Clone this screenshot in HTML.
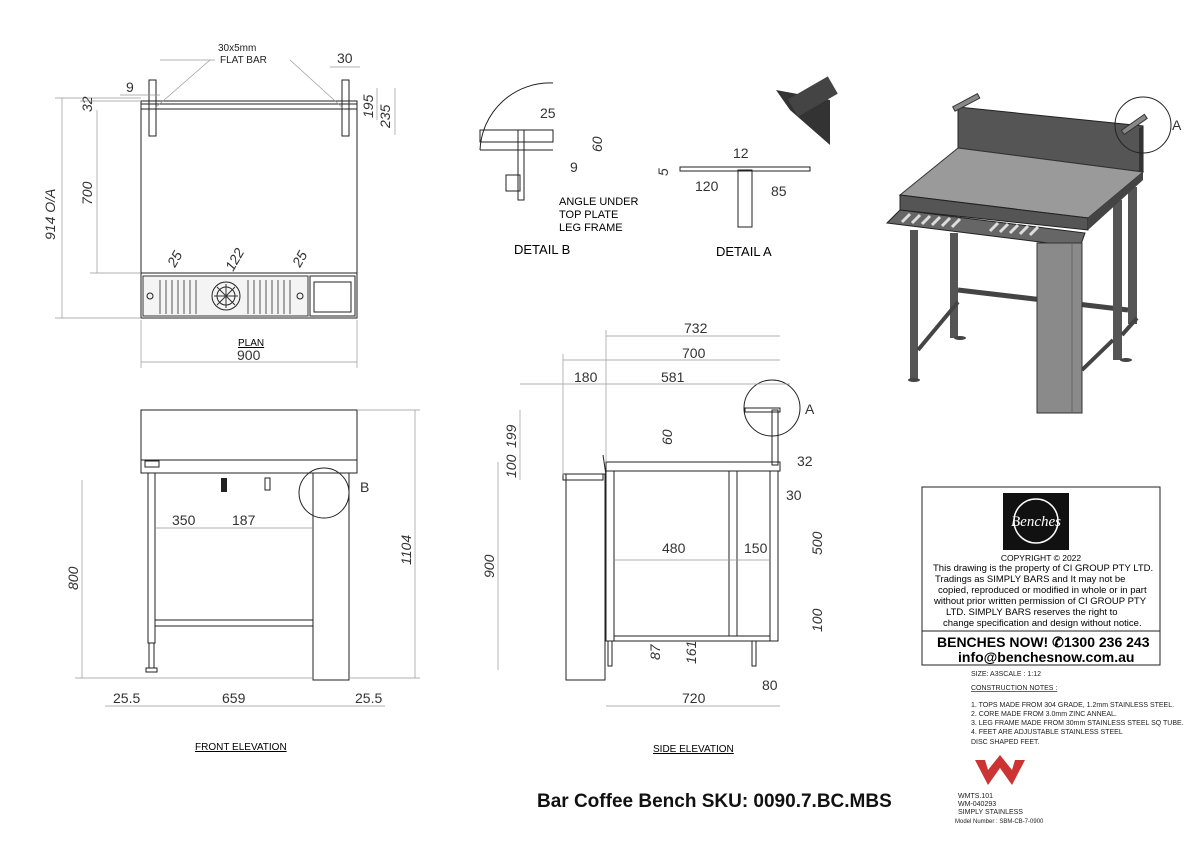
<!DOCTYPE html>
<html><head><meta charset="utf-8"><style>
html,body{margin:0;padding:0;background:#fff;}
svg{display:block;font-family:"Liberation Sans",sans-serif;}
.l{stroke:#222;stroke-width:1;fill:none}
.t{stroke:#999;stroke-width:.7;fill:none}
.d{font-size:14px;fill:#333}
.s{font-size:7px;fill:#222}
</style></head><body>
<svg width="1200" height="848" viewBox="0 0 1200 848">
<rect width="1200" height="848" fill="#fff"/>
<!-- PLAN -->
<g>
<rect x="141" y="104" width="216" height="214" class="l"/>
<line x1="141" y1="273" x2="357" y2="273" class="l"/>
<rect x="143" y="276" width="165" height="40" fill="#f4f4f4" stroke="#333"/>
<rect x="310" y="276" width="45" height="40" class="l"/>
<rect x="314" y="282" width="37" height="30" class="l"/>
<g stroke="#555" stroke-width="1">
<path d="M160 280v34M166 280v34M172 280v34M178 280v34M184 280v34M190 280v34M196 280v34M248 280v34M254 280v34M260 280v34M266 280v34M272 280v34M278 280v34M284 280v34M290 280v34"/>
</g>
<circle cx="226" cy="296" r="14" class="l"/><circle cx="226" cy="296" r="9" class="l"/>
<path d="M214 296h24M226 284v24M217 287l18 18M235 287l-18 18" stroke="#333"/>
<circle cx="150" cy="296" r="3" class="l"/><circle cx="300" cy="296" r="3" class="l"/>
<rect x="141" y="101" width="216" height="8" class="l"/>
<rect x="149" y="80" width="7" height="56" class="l"/><rect x="342" y="80" width="7" height="56" class="l"/>
<line x1="160" y1="60" x2="215" y2="60" class="t"/><line x1="290" y1="60" x2="345" y2="110" class="t"/><line x1="210" y1="60" x2="155" y2="108" class="t"/>
<text x="218" y="51" class="s" style="font-size:10px">30x5mm</text><text x="220" y="63" class="s" style="font-size:10px">FLAT BAR</text>
<line x1="62" y1="98" x2="62" y2="318" class="t"/><line x1="55" y1="98" x2="141" y2="98" class="t"/><line x1="55" y1="318" x2="141" y2="318" class="t"/>
<text class="d" transform="translate(55 240) rotate(-90)" font-style="italic">914 O/A</text>
<line x1="97" y1="110" x2="97" y2="273" class="t"/><line x1="90" y1="273" x2="141" y2="273" class="t"/>
<text class="d" transform="translate(92 205) rotate(-90)" font-style="italic">700</text>
<text class="d" transform="translate(92 112) rotate(-90)" font-style="italic">32</text>
<line x1="80" y1="101" x2="141" y2="101" class="t"/>
<text x="126" y="92" class="d">9</text><line x1="120" y1="95" x2="160" y2="95" class="t"/>
<text x="337" y="63" class="d">30</text><line x1="330" y1="67" x2="360" y2="67" class="t"/>
<text class="d" transform="translate(373 118) rotate(-90)" font-style="italic">195</text>
<text class="d" transform="translate(390 128) rotate(-90)" font-style="italic">235</text>
<line x1="377" y1="88" x2="377" y2="120" class="t"/><line x1="395" y1="88" x2="395" y2="135" class="t"/>
<text class="d" transform="translate(175 268) rotate(-60)" font-style="italic">25</text>
<text class="d" transform="translate(233 272) rotate(-60)" font-style="italic">122</text>
<text class="d" transform="translate(300 268) rotate(-60)" font-style="italic">25</text>
<text x="238" y="346" style="font-size:10px;text-decoration:underline">PLAN</text>
<line x1="141" y1="362" x2="357" y2="362" class="t"/><line x1="141" y1="320" x2="141" y2="368" class="t"/><line x1="357" y1="320" x2="357" y2="368" class="t"/>
<text x="237" y="360" class="d">900</text>
</g>
<!-- FRONT ELEVATION -->
<g>
<rect x="141" y="410" width="216" height="63" class="l"/>
<line x1="141" y1="460" x2="357" y2="460" class="l"/>
<rect x="145" y="461" width="14" height="6" class="l"/>
<rect x="148" y="473" width="7" height="170" class="l"/>
<rect x="313" y="473" width="36" height="207" fill="#fff" stroke="#222"/>
<line x1="155" y1="620" x2="313" y2="620" class="l"/><line x1="155" y1="626" x2="313" y2="626" class="l"/>
<rect x="149" y="643" width="5" height="25" class="l"/><rect x="146" y="668" width="11" height="4" class="l"/>
<rect x="221" y="478" width="6" height="14" fill="#222"/>
<rect x="265" y="478" width="5" height="12" class="l"/>
<circle cx="324" cy="493" r="25" class="l"/><text x="360" y="492" class="d">B</text>
<line x1="82" y1="480" x2="82" y2="678" class="t"/><line x1="75" y1="678" x2="313" y2="678" class="t"/>
<text class="d" transform="translate(78 590) rotate(-90)" font-style="italic">800</text>
<line x1="415" y1="410" x2="415" y2="678" class="t"/><line x1="357" y1="410" x2="420" y2="410" class="t"/><line x1="349" y1="678" x2="420" y2="678" class="t"/>
<text class="d" transform="translate(411 565) rotate(-90)" font-style="italic">1104</text>
<line x1="155" y1="528" x2="313" y2="528" class="t"/>
<text x="172" y="525" class="d">350</text><text x="232" y="525" class="d">187</text>
<line x1="105" y1="706" x2="385" y2="706" class="t"/>
<text x="113" y="703" class="d">25.5</text><text x="222" y="703" class="d">659</text><text x="355" y="703" class="d">25.5</text>
<text x="195" y="750" style="font-size:10px;text-decoration:underline">FRONT ELEVATION</text>
</g>
<!-- SIDE ELEVATION -->
<g>
<rect x="606" y="462" width="174" height="9" class="l"/>
<rect x="772" y="410" width="6" height="55" class="l"/>
<rect x="745" y="408" width="35" height="4" class="l"/>
<rect x="566" y="474" width="39" height="206" fill="#fff" stroke="#222"/>
<rect x="563" y="474" width="40" height="6" class="l"/>
<line x1="603" y1="455" x2="606" y2="475" class="l"/>
<rect x="606" y="471" width="8" height="170" class="l"/><rect x="729" y="471" width="8" height="165" class="l"/><rect x="770" y="471" width="8" height="170" class="l"/>
<line x1="614" y1="636" x2="770" y2="636" class="l"/><line x1="614" y1="641" x2="770" y2="641" class="l"/>
<rect x="608" y="641" width="4" height="25" class="l"/><rect x="752" y="641" width="4" height="25" class="l"/>
<circle cx="772" cy="408" r="28" class="l"/><text x="805" y="414" class="d">A</text>
<line x1="520" y1="384" x2="790" y2="384" class="t"/><line x1="563" y1="360" x2="780" y2="360" class="t"/><line x1="606" y1="336" x2="780" y2="336" class="t"/>
<line x1="563" y1="354" x2="563" y2="475" class="t"/><line x1="606" y1="330" x2="606" y2="462" class="t"/>
<text x="574" y="382" class="d">180</text><text x="661" y="382" class="d">581</text><text x="682" y="358" class="d">700</text><text x="684" y="333" class="d">732</text>
<line x1="498" y1="462" x2="498" y2="670" class="t"/><line x1="520" y1="410" x2="520" y2="480" class="t"/>
<text class="d" transform="translate(516 478) rotate(-90)" font-style="italic">100</text>
<text class="d" transform="translate(516 448) rotate(-90)" font-style="italic">199</text>
<text class="d" transform="translate(494 578) rotate(-90)" font-style="italic">900</text>
<text class="d" transform="translate(672 445) rotate(-90)" font-style="italic">60</text>
<text x="797" y="466" class="d">32</text><text x="786" y="500" class="d">30</text>
<text class="d" transform="translate(822 555) rotate(-90)" font-style="italic">500</text>
<text class="d" transform="translate(822 632) rotate(-90)" font-style="italic">100</text>
<line x1="614" y1="560" x2="770" y2="560" class="t"/>
<text x="662" y="553" class="d">480</text><text x="744" y="553" class="d">150</text>
<text class="d" transform="translate(660 660) rotate(-90)" font-style="italic">87</text>
<text class="d" transform="translate(696 664) rotate(-90)" font-style="italic">161</text>
<line x1="606" y1="706" x2="780" y2="706" class="t"/><text x="682" y="703" class="d">720</text>
<text x="762" y="690" class="d">80</text>
<text x="653" y="752" style="font-size:10px;text-decoration:underline">SIDE ELEVATION</text>
</g>
<!-- DETAILS -->
<g>
<path d="M553 83 A70 70 0 0 0 480 150" class="l"/>
<line x1="480" y1="150" x2="553" y2="150" class="l"/>
<rect x="480" y="130" width="73" height="12" class="l"/>
<rect x="518" y="130" width="6" height="70" class="l"/><rect x="506" y="175" width="14" height="16" class="l"/>
<text x="540" y="118" class="d">25</text><text x="570" y="172" class="d">9</text>
<text class="d" transform="translate(602 152) rotate(-90)" font-style="italic">60</text>
<text x="559" y="205" style="font-size:11px">ANGLE UNDER</text><text x="559" y="218" style="font-size:11px">TOP PLATE</text><text x="559" y="231" style="font-size:11px">LEG FRAME</text>
<text x="514" y="254" style="font-size:13px">DETAIL B</text>
<rect x="680" y="167" width="130" height="4" class="l"/>
<rect x="738" y="170" width="14" height="57" class="l"/>
<text x="733" y="158" class="d">12</text><text x="695" y="191" class="d">120</text><text x="771" y="196" class="d">85</text>
<text class="d" transform="translate(668 176) rotate(-90)" font-style="italic">5</text>
<text x="716" y="256" style="font-size:13px">DETAIL A</text>
<path d="M776 90 L790 110 L830 145 L830 100 Z" fill="#333"/>
<rect x="790" y="87" width="46" height="20" fill="#444" transform="rotate(-30 812 97)"/>
</g>
<!-- 3D -->
<g>
<!-- back legs -->
<rect x="950" y="233" width="8" height="105" fill="#555"/>
<rect x="1128" y="187" width="9" height="137" fill="#555"/>
<line x1="958" y1="290" x2="1128" y2="310" stroke="#444" stroke-width="5"/>
<rect x="1113" y="200" width="9" height="160" fill="#555"/>
<rect x="910" y="230" width="8" height="150" fill="#555"/>
<line x1="918" y1="350" x2="958" y2="302" stroke="#444" stroke-width="4"/>
<line x1="1122" y1="335" x2="1137" y2="318" stroke="#444" stroke-width="4"/>
<line x1="1082" y1="370" x2="1113" y2="340" stroke="#444" stroke-width="4"/>
<ellipse cx="914" cy="380" rx="6" ry="2" fill="#444"/><ellipse cx="1126" cy="360" rx="6" ry="2" fill="#444"/><ellipse cx="960" cy="338" rx="6" ry="2" fill="#444"/>
<!-- back panel -->
<polygon points="958,107 1143,126 1143,172 958,148" fill="#555" stroke="#222"/>
<polygon points="1139,128 1143,126 1143,180 1139,180" fill="#333"/>
<!-- top -->
<polygon points="958,148 1143,172 1088,218 900,195" fill="#9a9a9a" stroke="#333"/>
<polygon points="900,195 1088,218 1088,230 900,210" fill="#555" stroke="#222"/>
<polygon points="1088,218 1143,172 1143,180 1088,230" fill="#444"/>
<polygon points="887,223 900,210 1085,233 1080,247" fill="#666" stroke="#222"/>
<g stroke="#ddd" stroke-width="3">
<path d="M902 222l8-8M912 223l8-8M922 224l8-8M932 225l8-8M942 226l8-8M952 227l8-8M990 231l8-8M1000 232l8-8M1010 233l8-8M1020 234l8-8M1030 235l8-8"/>
</g>
<!-- column -->
<rect x="1037" y="243" width="45" height="170" fill="#8a8a8a" stroke="#333"/>
<line x1="1072" y1="243" x2="1072" y2="413" stroke="#666"/>
<!-- flat bars -->
<rect x="952" y="100" width="28" height="5" fill="#888" stroke="#333" transform="rotate(-28 966 102)"/>
<rect x="1120" y="122" width="28" height="5" fill="#888" stroke="#333" transform="rotate(-35 1134 124)"/>
<circle cx="1143" cy="125" r="28" class="l"/><text x="1172" y="130" class="d">A</text>
</g>
<!-- TITLE BLOCK -->
<g>
<rect x="922" y="487" width="238" height="178" class="l"/>
<rect x="1003" y="493" width="66" height="57" fill="#111"/>
<circle cx="1036" cy="521" r="22" fill="none" stroke="#fff" stroke-width="1.5"/>
<text x="1036" y="526" font-size="15" fill="#fff" text-anchor="middle" font-style="italic" font-family="Liberation Serif">Benches</text>
<text x="1041" y="561" font-size="8.5" text-anchor="middle">COPYRIGHT © 2022</text>
<g font-size="9.5">
<text x="933" y="571">This drawing is the property of CI GROUP PTY LTD.</text>
<text x="935" y="582">Tradings as SIMPLY BARS and It may not be</text>
<text x="938" y="593">copied, reproduced or modified in whole or in part</text>
<text x="934" y="604">without prior written permission of CI GROUP PTY</text>
<text x="946" y="615">LTD. SIMPLY BARS reserves the right to</text>
<text x="943" y="626">change specification and design without notice.</text>
</g>
<line x1="922" y1="631" x2="1160" y2="631" class="l"/>
<text x="937" y="647" font-size="14" font-weight="bold">BENCHES NOW!  ✆1300 236 243</text>
<text x="958" y="662" font-size="14" font-weight="bold">info@benchesnow.com.au</text>
<text x="971" y="676" class="s">SIZE: A3SCALE : 1:12</text>
<text x="971" y="690" class="s" text-decoration="underline">CONSTRUCTION NOTES :</text>
<text x="971" y="707" class="s">1. TOPS MADE FROM 304 GRADE, 1.2mm STAINLESS STEEL.</text>
<text x="971" y="716" class="s">2. CORE MADE FROM 3.0mm ZINC ANNEAL.</text>
<text x="971" y="725" class="s">3. LEG FRAME MADE FROM 30mm STAINLESS STEEL SQ TUBE.</text>
<text x="971" y="734" class="s">4. FEET ARE ADJUSTABLE STAINLESS STEEL</text>
<text x="971" y="744" class="s">DISC SHAPED FEET.</text>
<path d="M975 760 L988 785 L1000 768 L1012 785 L1025 760 L1015 760 L1012 770 L1000 755 L988 770 L985 760 Z" fill="#c33"/>
<text x="958" y="798" class="s">WMTS.101</text><text x="958" y="806" class="s">WM-040293</text><text x="958" y="814" class="s">SIMPLY STAINLESS</text>
<text x="955" y="823" font-size="6" fill="#222">Model Number : SBM-CB-7-0900</text>
</g>
<text x="537" y="807" font-size="19" font-weight="bold" fill="#111">Bar Coffee Bench SKU: 0090.7.BC.MBS</text>
</svg>
</body></html>
